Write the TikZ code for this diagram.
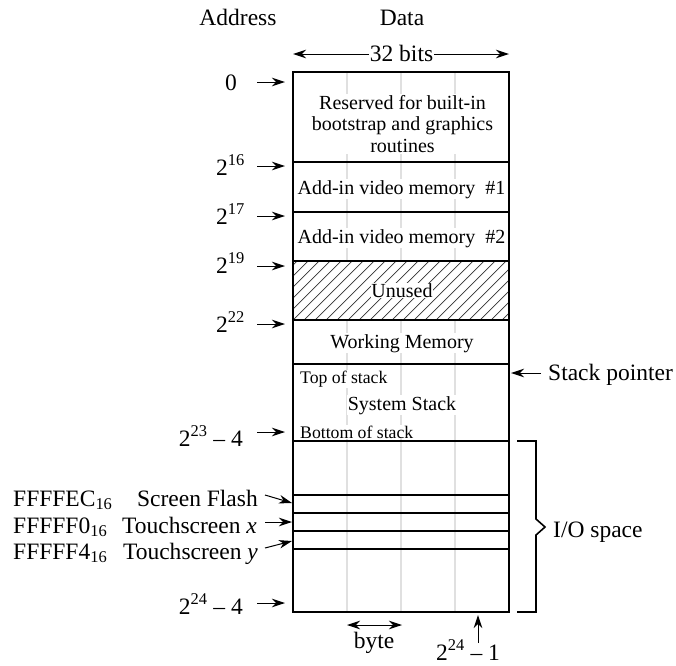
\documentclass[tikz,border=0pt]{standalone}
\usepackage{fontspec}
\setmainfont{Liberation Serif}
\usetikzlibrary{arrows.meta}
\begin{document}
\begin{tikzpicture}[x=1pt,y=-1pt,
  arr/.style={-{Stealth[length=13pt,width=8.5pt,inset=4pt]}, line width=1pt},
  darr/.style={{Stealth[length=13pt,width=8.5pt,inset=4pt]}-{Stealth[length=13pt,width=8.5pt,inset=4pt]}, line width=1pt},
  lbl/.style={font=\fontsize{23.5}{28}\selectfont, inner sep=0pt},
  boxtxt/.style={font=\fontsize{20}{21.5}\selectfont, inner sep=1pt, fill=white},
  smalltxt/.style={font=\fontsize{17.7}{20}\selectfont, inner sep=1pt, fill=white},
  gridline/.style={black!12, line width=1.2pt},
  sepline/.style={line width=1.5pt},
  hatchline/.style={line width=0.7pt, black!80},
]
\useasboundingbox (0,0) rectangle (676,665);

% light byte dividers
\foreach \x in {347,401,455} \draw[gridline] (\x,72) -- (\x,612);

% hatched unused region
\fill[white] (293,261) rectangle (509,320);
\begin{scope}
  \clip (293,261) rectangle (509,320);
  \foreach \i in {0,...,26} \draw[hatchline] ({233+\i*11},325) -- ++(70,-70);
\end{scope}

% headers
\node[lbl, anchor=base] (haddr) at (238,25) {Address};
\node[lbl, anchor=base] (hdata) at (402,25) {Data};
\coordinate (bl) at (293,54);
\coordinate (br) at (509,54);
\draw[darr] (bl) -- (br);
\node[lbl, fill=white, inner sep=1pt, anchor=base] (bits) at (401.5,61) {32 bits};

% texts inside
\node[boxtxt, align=center] (res) at (402.5,124) {Reserved for built-in\\bootstrap and graphics\\routines};
\node[boxtxt, anchor=base] (v1) at (401.5,194) {Add-in video memory\ \ \#1};
\node[boxtxt, anchor=base] (v2) at (401.5,243) {Add-in video memory\ \ \#2};
\node[boxtxt, inner sep=0.5pt, anchor=base] (unused) at (402,297) {Unused};
\node[boxtxt, anchor=base] (wm) at (402,348) {Working Memory};
\node[smalltxt, anchor=base west] (tos) at (299,383) {Top of stack};
\node[boxtxt, anchor=base] (ss) at (402,410) {System Stack};
\node[smalltxt, anchor=base west] (bos) at (299,438) {Bottom of stack};

% box and separators
\draw[line width=1.7pt] (293,72) rectangle (509,612);
\foreach \y in {162,212,261,320,364,441,495,513,531,549} \draw[sepline] (293,\y) -- (509,\y);

% address labels
\node[lbl, anchor=base east] (l0) at (237,90) {0};
\node[lbl, anchor=base east] (l16) at (245,175) {2\textsuperscript{16}};
\node[lbl, anchor=base east] (l17) at (245,224) {2\textsuperscript{17}};
\node[lbl, anchor=base east] (l19) at (245,273) {2\textsuperscript{19}};
\node[lbl, anchor=base east] (l22) at (245,332) {2\textsuperscript{22}};
\node[lbl, anchor=base east] (l23) at (243,446) {2\textsuperscript{23} – 4};
\node[lbl, anchor=base east] (l24) at (243,614) {2\textsuperscript{24} – 4};

\foreach \n/\y in {0/82,16/166,17/216,19/266,22/324,23/432,24/603} {
  \coordinate (s\n) at (257,\y);
  \coordinate (e\n) at (285,\y);
  \draw[arr] (s\n) -- (e\n);
}

% I/O registers
\node[lbl, anchor=base west] (fec) at (13,506) {FFFFEC\textsubscript{16}};
\node[lbl, anchor=base east] (sf) at (258,506) {Screen Flash};
\node[lbl, anchor=base west] (ff0) at (13,533) {FFFFF0\textsubscript{16}};
\node[lbl, anchor=base east] (tx) at (257,533) {Touchscreen \textit{x}};
\node[lbl, anchor=base west] (ff4) at (13,559) {FFFFF4\textsubscript{16}};
\node[lbl, anchor=base east] (ty) at (258,559) {Touchscreen \textit{y}};
\coordinate (sfs) at (265,495);
\coordinate (sfe) at (292,503);
\coordinate (txs) at (265,522);
\coordinate (txe) at (292,522);
\coordinate (tys) at (265,548);
\coordinate (tye) at (292,541);
\draw[arr] (sfs) -- (sfe);
\draw[arr] (txs) -- (txe);
\draw[arr] (tys) -- (tye);

% stack pointer
\node[lbl, anchor=base west] (sp) at (548,380) {Stack pointer};
\coordinate (sps) at (541,373);
\coordinate (spe) at (511,373);
\draw[arr] (sps) -- (spe);

% I/O space brace
\draw[line width=1.6pt] (517,441) -- (536,441) -- (536,519) -- (545,527) -- (536,535) -- (536,612) -- (517,612);
\node[lbl, anchor=base west] (io) at (553,537) {I/O space};

% bottom
\coordinate (byl) at (347,625);
\coordinate (byr) at (402,625);
\draw[darr] (byl) -- (byr);
\node[lbl, anchor=base] (byte) at (374,648) {byte};
\coordinate (las) at (478,643);
\coordinate (lae) at (478,615);
\draw[arr] (las) -- (lae);
\node[lbl, anchor=base] (last) at (468,660) {2\textsuperscript{24} – 1};
\end{tikzpicture}
\end{document}
